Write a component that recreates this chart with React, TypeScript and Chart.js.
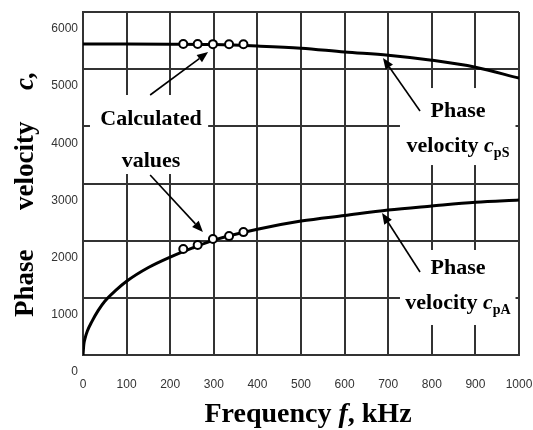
import React, { useEffect, useRef } from 'react';
import { Chart, registerables } from 'chart.js';

Chart.register(...registerables);

// ---- data (frequency in kHz, phase velocity in m/s) ----
const xTickValues = [0, 100, 200, 300, 400, 500, 600, 700, 800, 900, 1000];
const yTickValues = [0, 1000, 2000, 3000, 4000, 5000, 6000];

const freqA = [0, 2, 5, 10, 20, 35, 50, 75, 100, 150, 200, 250, 300, 400, 500, 600, 700, 800, 900, 1000];
const velA = [0, 190, 300, 420, 580, 780, 940, 1130, 1290, 1530, 1713, 1870, 2010, 2200, 2343, 2440, 2535, 2605, 2670, 2710];

const freqS = [0, 100, 200, 300, 400, 500, 600, 700, 800, 900, 1000];
const velS = [5440, 5440, 5437, 5430, 5405, 5367, 5300, 5245, 5157, 5035, 4843];

const calcFreq = [230, 263, 298, 335, 368];
const calcVelS = [5440, 5440, 5438, 5437, 5437];
const calcVelA = [1853, 1923, 2028, 2080, 2150];

// annotation boxes (white areas hiding grid lines), in data units
const boxF0 = [16, 727, 727];
const boxF1 = [287, 992, 992];
const boxV0 = [4548, 4670, 1837];
const boxV1 = [3166, 3323, 525];

// arrows: tail -> tip, in data units
const arrowTailF = [154, 154, 773, 773];
const arrowTailV = [4548, 3149, 4268, 1452];
const arrowTipF = [287, 275, 688, 686];
const arrowTipV = [5300, 2152, 5195, 2484];

// annotation texts
const noteF = [156, 156, 860, 860, 860, 860];
const noteV = [4023, 3288, 4163, 3550, 1417, 805];
const noteMain = ['Calculated', 'values', 'Phase', 'velocity ', 'Phase', 'velocity '];
const noteItalic = ['', '', '', 'c', '', 'c'];
const noteSub = ['', '', '', 'pS', '', 'pA'];

const SERIF = '"Liberation Serif", "Times New Roman", serif';

type Part = { t: string; font: string; dy: number };

function drawParts(ctx: CanvasRenderingContext2D, parts: Part[], cx: number, y: number, align: 'center' | 'left') {
  let total = 0;
  for (const p of parts) {
    ctx.font = p.font;
    total += ctx.measureText(p.t).width;
  }
  let x = align === 'center' ? cx - total / 2 : cx;
  ctx.textAlign = 'left';
  ctx.textBaseline = 'alphabetic';
  for (const p of parts) {
    ctx.font = p.font;
    ctx.fillText(p.t, x, y + p.dy);
    x += ctx.measureText(p.t).width;
  }
}

const annotPlugin = {
  id: 'annot',
  beforeDatasetsDraw(chart: any) {
    const { ctx, scales } = chart;
    const xs = scales.x, ys = scales.y;
    ctx.save();
    ctx.fillStyle = '#ffffff';
    for (let i = 0; i < boxF0.length; i++) {
      const x0 = xs.getPixelForValue(boxF0[i]);
      const x1 = xs.getPixelForValue(boxF1[i]);
      const y0 = ys.getPixelForValue(boxV0[i]);
      const y1 = ys.getPixelForValue(boxV1[i]);
      ctx.fillRect(Math.min(x0, x1), Math.min(y0, y1), Math.abs(x1 - x0), Math.abs(y1 - y0));
    }
    ctx.restore();
  },
  afterDraw(chart: any) {
    const { ctx, scales, chartArea } = chart;
    const xs = scales.x, ys = scales.y;
    ctx.save();
    ctx.fillStyle = '#000';
    ctx.strokeStyle = '#000';

    // arrows
    for (let i = 0; i < arrowTailF.length; i++) {
      const x0 = xs.getPixelForValue(arrowTailF[i]);
      const y0 = ys.getPixelForValue(arrowTailV[i]);
      const x1 = xs.getPixelForValue(arrowTipF[i]);
      const y1 = ys.getPixelForValue(arrowTipV[i]);
      const ang = Math.atan2(y1 - y0, x1 - x0);
      const headLen = 11, headW = 4.5;
      const bx = x1 - headLen * Math.cos(ang);
      const by = y1 - headLen * Math.sin(ang);
      ctx.lineWidth = 1.6;
      ctx.beginPath();
      ctx.moveTo(x0, y0);
      ctx.lineTo(bx, by);
      ctx.stroke();
      ctx.beginPath();
      ctx.moveTo(x1, y1);
      ctx.lineTo(bx + headW * Math.sin(ang), by - headW * Math.cos(ang));
      ctx.lineTo(bx - headW * Math.sin(ang), by + headW * Math.cos(ang));
      ctx.closePath();
      ctx.fill();
    }

    // annotation texts
    for (let i = 0; i < noteF.length; i++) {
      const px = xs.getPixelForValue(noteF[i]);
      const py = ys.getPixelForValue(noteV[i]);
      const parts: Part[] = [{ t: noteMain[i], font: `bold 22px ${SERIF}`, dy: 0 }];
      if (noteItalic[i]) parts.push({ t: noteItalic[i], font: `italic bold 22px ${SERIF}`, dy: 0 });
      if (noteSub[i]) parts.push({ t: noteSub[i], font: `bold 14px ${SERIF}`, dy: 5 });
      drawParts(ctx, parts, px, py, 'center');
    }

    // x axis title
    const cx = (chartArea.left + chartArea.right) / 2 + 7;
    drawParts(
      ctx,
      [
        { t: 'Frequency ', font: `bold 28px ${SERIF}`, dy: 0 },
        { t: 'f', font: `italic bold 28px ${SERIF}`, dy: 0 },
        { t: ', kHz', font: `bold 28px ${SERIF}`, dy: 0 },
      ],
      cx,
      chartArea.bottom + 67,
      'center'
    );

    // y axis title (rotated)
    ctx.translate(33, chartArea.bottom - 38);
    ctx.rotate(-Math.PI / 2);
    ctx.textAlign = 'left';
    ctx.textBaseline = 'alphabetic';
    ctx.font = `bold 27px ${SERIF}`;
    ctx.fillText('Phase', 0, 0);
    ctx.fillText('velocity', 107, 0);
    ctx.font = `italic bold 27px ${SERIF}`;
    ctx.fillText('c,', 227, 0);
    ctx.restore();
  },
};

export default function App() {
  const ref = useRef<HTMLCanvasElement | null>(null);
  useEffect(() => {
    if (!ref.current) return;
    const gridColor = '#333333';
    const chart = new Chart(ref.current, {
      type: 'scatter',
      data: {
        datasets: [
          {
            label: 'calc S',
            data: calcFreq.map((f, i) => ({ x: f, y: calcVelS[i] })),
            showLine: false,
            pointRadius: 4,
            pointBorderWidth: 2,
            pointBackgroundColor: '#ffffff',
            pointBorderColor: '#000000',
            order: 0,
          },
          {
            label: 'calc A',
            data: calcFreq.map((f, i) => ({ x: f, y: calcVelA[i] })),
            showLine: false,
            pointRadius: 4,
            pointBorderWidth: 2,
            pointBackgroundColor: '#ffffff',
            pointBorderColor: '#000000',
            order: 0,
          },
          {
            label: 'cpS',
            data: freqS.map((f, i) => ({ x: f, y: velS[i] })),
            showLine: true,
            borderColor: '#000000',
            borderWidth: 3,
            pointRadius: 0,
            cubicInterpolationMode: 'monotone',
            order: 1,
          },
          {
            label: 'cpA',
            data: freqA.map((f, i) => ({ x: f, y: velA[i] })),
            showLine: true,
            borderColor: '#000000',
            borderWidth: 3,
            pointRadius: 0,
            cubicInterpolationMode: 'monotone',
            order: 1,
          },
        ],
      },
      options: {
        animation: false,
        responsive: true,
        maintainAspectRatio: false,
        layout: { padding: { top: 12, right: 14, left: 0, bottom: 0 } },
        plugins: { legend: { display: false }, tooltip: { enabled: false }, title: { display: false } },
        scales: {
          x: {
            type: 'linear',
            min: 0,
            max: 1000,
            afterBuildTicks: (s: any) => {
              s.ticks = xTickValues.map((v) => ({ value: v }));
            },
            afterFit: (s: any) => {
              s.height = 75;
              s.paddingLeft = 0;
              s.paddingRight = 0;
            },
            grid: { color: gridColor, lineWidth: 2, drawTicks: false },
            border: { color: gridColor, width: 2 },
            ticks: {
              padding: 22,
              maxRotation: 0,
              autoSkip: false,
              color: '#333333',
              font: { family: '"Liberation Sans", Arial, sans-serif', size: 12 },
              callback: (v: any) => String(v),
            },
          },
          y: {
            type: 'linear',
            min: 0,
            max: 6000,
            afterBuildTicks: (s: any) => {
              s.ticks = yTickValues.map((v) => ({ value: v }));
            },
            afterFit: (s: any) => {
              s.width = 83;
              s.paddingTop = 0;
              s.paddingBottom = 0;
            },
            grid: { color: gridColor, lineWidth: 2, drawTicks: false },
            border: { color: gridColor, width: 2 },
            ticks: {
              padding: 5,
              labelOffset: 17,
              autoSkip: false,
              color: '#333333',
              font: { family: '"Liberation Sans", Arial, sans-serif', size: 12 },
              callback: (v: any) => String(v),
            },
          },
        },
      },
      plugins: [annotPlugin],
    } as any);
    return () => chart.destroy();
  }, []);

  return (
    <div style={{ position: 'fixed', left: 0, top: 0, width: 533, height: 430, background: '#fff' }}>
      <canvas ref={ref} />
    </div>
  );
}
